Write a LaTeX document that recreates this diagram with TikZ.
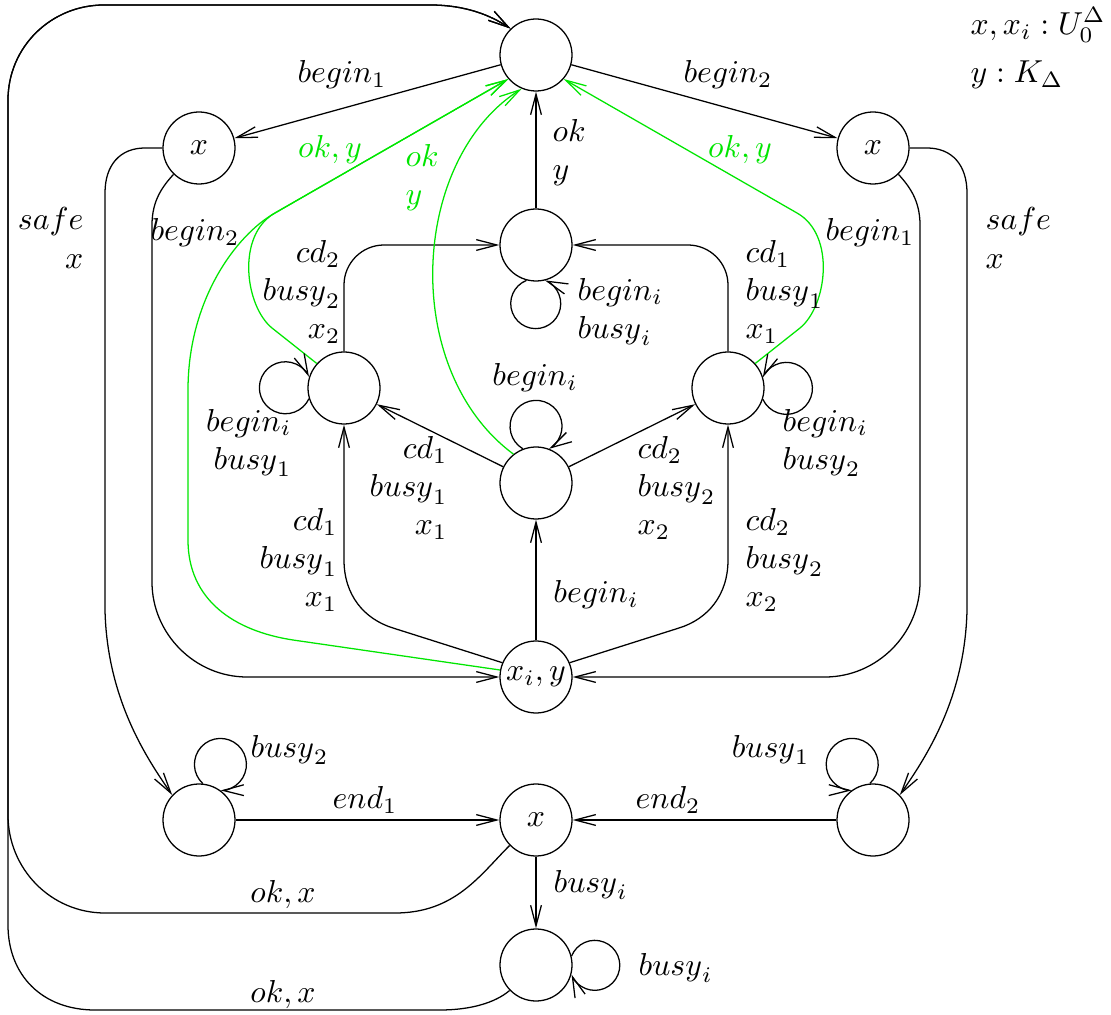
\documentclass[tikz,border=0pt]{standalone}
\usetikzlibrary{arrows.meta}
\definecolor{okgreen}{RGB}{0,230,0}
\begin{document}
\begin{tikzpicture}[x=0.315pt,y=-0.315pt,
  st/.style={circle,draw,minimum size=22.68pt,inner sep=0pt},
  arr/.style={-{Straight Barb[length=6.5pt,width=3.4pt]}},
  gr/.style={draw=okgreen},
  gl/.style={text=okgreen,inner sep=0pt},
  lb/.style={inner sep=0pt}]
\useasboundingbox (0,0) rectangle (1111,1015);
% states
\node[st] (T)  at (536,55)  {};
\node[st] (LX) at (199,148) {$x$};
\node[st] (RX) at (873,148) {$x$};
\node[st] (M)  at (536,245) {};
\node[st] (LM) at (344,388) {};
\node[st] (RM) at (728,388) {};
\node[st] (C)  at (536,483) {};
\node[st] (B)  at (536,677) {$x_i,y$};
\node[st] (LL) at (199,820) {};
\node[st] (X)  at (536,820) {$x$};
\node[st] (LR) at (873,820) {};
\node[st] (BB) at (536,965) {};
% straight edges
\draw[arr] (T) -- (LX);
\draw[arr] (T) -- (RX);
\draw[arr] (M) -- (T);
\draw[arr] (B) -- (C);
\draw[arr] (C) -- (LM);
\draw[arr] (C) -- (RM);
\draw[arr] (LL) -- (X);
\draw[arr] (LR) -- (X);
\draw[arr] (X) -- (BB);
% side edges
\draw[arr] (LX.west) -- (145,148) .. controls (120,148) and (105,165) .. (105,193) -- (105,610) .. controls (107,700) and (148,760) .. (LL.137);
\draw[arr] (LX.226) .. controls (163,186) and (152,200) .. (152,225) -- (152,582) .. controls (152,634) and (195,677) .. (247,677) -- (B.west);
\draw[arr] (RX.east) -- (927,148) .. controls (952,148) and (967,165) .. (967,193) -- (967,610) .. controls (965,700) and (924,760) .. (LR.43);
\draw[arr] (RX.314) .. controls (909,186) and (920,200) .. (920,225) -- (920,582) .. controls (920,634) and (877,677) .. (825,677) -- (B.east);
\draw[arr] (LM.north) -- (344,285) .. controls (344,263) and (362,245) .. (384,245) -- (M.west);
\draw[arr] (RM.north) -- (728,285) .. controls (728,263) and (710,245) .. (688,245) -- (M.east);
\draw[arr] (B.157) -- (393,628) .. controls (364,619) and (344,595) .. (344,560) -- (LM.south);
\draw[arr] (B.23) -- (679,628) .. controls (708,619) and (728,595) .. (728,560) -- (RM.south);
% outer edges
\draw[arr] (X.224) .. controls (480,875) and (455,913) .. (395,913) -- (105,913) .. controls (51,913) and (8,869) .. (8,815) -- (8,100) .. controls (8,47) and (51,5) .. (104,5) -- (430,5) .. controls (465,5) and (490,15) .. (T.134);
\draw[arr] (BB.224) .. controls (495,1003) and (470,1010) .. (440,1010) -- (95,1010) .. controls (42,1010) and (8,975) .. (8,925) -- (8,100) .. controls (8,47) and (51,5) .. (104,5) -- (430,5) .. controls (465,5) and (490,15) .. (T.134);
% green edges
\draw[gr,arr] (LM.138) -- (272,328) .. controls (245,306) and (236,235) .. (275,213) -- (T.221);
\draw[gr,arr] (B.169) -- (293,640) .. controls (234,631) and (188,600) .. (188,540) -- (188,390) .. controls (188,300) and (236,235) .. (275,213) -- (T.221);
\draw[gr,arr] (C.128) .. controls (400,370) and (410,160) .. (T.247);
\draw[gr,arr] (RM.42) -- (800,328) .. controls (827,306) and (836,235) .. (797,213) -- (T.319);
% self loops
\draw[arr] (M.255.2) arc[start angle=111.6,end angle=428.4,radius=7.875pt];
\draw[arr] (LM.197.8) arc[start angle=-24.9,end angle=-335.1,radius=8.19pt];
\draw[arr] (RM.342.2) arc[start angle=204.9,end angle=515.1,radius=8.19pt];
\draw[arr] (C.111.5) arc[start angle=-120.4,end angle=-419.6,radius=8.19pt];
\draw[arr] (LL.84.6) arc[start angle=227.4,end angle=-89.4,radius=8.19pt];
\draw[arr] (LR.95.4) arc[start angle=-47.4,end angle=269.4,radius=8.19pt];
\draw[arr] (BB.14.8) arc[start angle=158.4,end angle=-158.4,radius=7.875pt];
% labels
\node[lb] (l1) at (342,75) {$begin_1$};
\node[lb] (l2) at (728,75) {$begin_2$};
\node[lb,anchor=west,align=left] (l3) at (552,153) {$ok$\\$y$};
\node[gl] (l4) at (330,150) {$ok,y$};
\node[gl,anchor=west,align=left] (l5) at (405,178) {$ok$\\$y$};
\node[gl] (l6) at (740,150) {$ok,y$};
\node[lb,anchor=east,align=right] (l7) at (84,238) {$safe$\\$x$};
\node[lb] (l8) at (195,233) {$begin_2$};
\node[lb,anchor=east,align=right] (l9) at (341,292) {$cd_2$\\${busy}_2$\\$x_2$};
\node[lb,anchor=west,align=left] (l10) at (577,312) {$begin_i$\\${busy}_i$};
\node[lb,anchor=west,align=left] (l11) at (745,292) {$cd_1$\\${busy}_1$\\$x_1$};
\node[lb] (l12) at (870,233) {$begin_1$};
\node[lb,anchor=west,align=left] (l13) at (985,238) {$safe$\\$x$};
\node[lb] (l14) at (535,378) {$begin_i$};
\node[lb,anchor=east,align=right] (l15) at (292,443) {$begin_i$\\${busy}_1$};
\node[lb,anchor=west,align=left] (l16) at (782,443) {$begin_i$\\${busy}_2$};
\node[lb,anchor=east,align=right] (l17) at (448,488) {$cd_1$\\${busy}_1$\\$x_1$};
\node[lb,anchor=west,align=left] (l18) at (637,488) {$cd_2$\\${busy}_2$\\$x_2$};
\node[lb,anchor=east,align=right] (l19) at (338,560) {$cd_1$\\${busy}_1$\\$x_1$};
\node[lb,anchor=west,align=left] (l20) at (745,560) {$cd_2$\\${busy}_2$\\$x_2$};
\node[lb] (l21) at (596,595) {$begin_i$};
\node[lb,anchor=west] (l22) at (250,750) {${busy}_2$};
\node[lb,anchor=east] (l23) at (810,750) {${busy}_1$};
\node[lb] (l24) at (365,800) {$end_1$};
\node[lb] (l25) at (668,800) {$end_2$};
\node[lb,anchor=west] (l26) at (553,885) {${busy}_i$};
\node[lb,anchor=west] (l27) at (638,968) {${busy}_i$};
\node[lb] (l28) at (283,895) {$ok,x$};
\node[lb] (l29) at (283,995) {$ok,x$};
\node[lb,anchor=west] (lg1) at (970,25) {$x,x_i:U_0^{\Delta}$};
\node[lb,anchor=west] (lg2) at (970,75) {$y:K_\Delta$};
\end{tikzpicture}
\end{document}
